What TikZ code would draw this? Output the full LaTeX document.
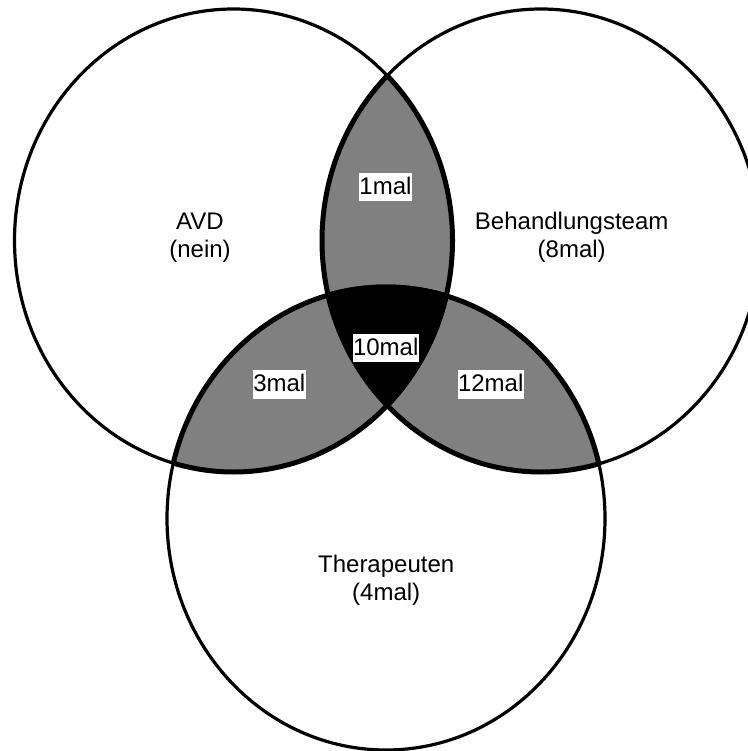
\documentclass[tikz,border=0pt]{standalone}
\usepackage{fontspec}
\setmainfont{Liberation Sans}
\definecolor{venngray}{RGB}{128,128,128}
\def\vennL{(233.5,240.5) ellipse [x radius=219pt, y radius=231.5pt]}
\def\vennR{(541,240.5) ellipse [x radius=219pt, y radius=231.5pt]}
\def\vennB{(386,518.5) ellipse [x radius=219pt, y radius=231.5pt]}
\begin{document}
\begin{tikzpicture}[x=1pt,y=-1pt,
  thinline/.style={line width=3.2pt},
  thickline/.style={line width=5pt},
  setlabel/.style={font=\fontsize{24}{28}\selectfont, align=center, inner sep=0pt},
  countlabel/.style={font=\fontsize{24}{28}\selectfont, fill=white, inner xsep=0.5pt, inner ysep=0pt, text height=21.5pt, text depth=7pt, anchor=base}]
\useasboundingbox (0,0) rectangle (747,751);
\fill[white] (0,0) rectangle (747,751);
% gray pairwise intersections
\begin{scope}
  \clip \vennL;
  \fill[venngray] \vennR;
  \fill[venngray] \vennB;
\end{scope}
\begin{scope}
  \clip \vennR;
  \fill[venngray] \vennB;
\end{scope}
% black triple intersection
\begin{scope}
  \clip \vennL;
  \clip \vennR;
  \fill[black] \vennB;
\end{scope}
% thick outlines of the shaded regions
\begin{scope}
  \clip \vennR;
  \draw[thickline] \vennL;
  \draw[thickline] \vennB;
\end{scope}
\begin{scope}
  \clip \vennL;
  \draw[thickline] \vennR;
  \draw[thickline] \vennB;
\end{scope}
\begin{scope}
  \clip \vennB;
  \draw[thickline] \vennL;
  \draw[thickline] \vennR;
\end{scope}
% circle outlines
\draw[thinline] \vennL;
\draw[thinline] \vennR;
\draw[thinline] \vennB;
% set labels
\node[setlabel] (avd) at (200,238) {AVD\\(nein)};
\node[setlabel] (team) at (571.7,237.5) {Behandlungsteam\\(8mal)};
\node[setlabel] (ther) at (386.2,580) {Therapeuten\\(4mal)};
% count labels
\node[countlabel] (m1) at (385.5,194.3) {1mal};
\node[countlabel] (m10) at (385.7,355) {10mal};
\node[countlabel] (m3) at (279.3,391.7) {3mal};
\node[countlabel] (m12) at (490.7,391.7) {12mal};
\end{tikzpicture}
\end{document}
